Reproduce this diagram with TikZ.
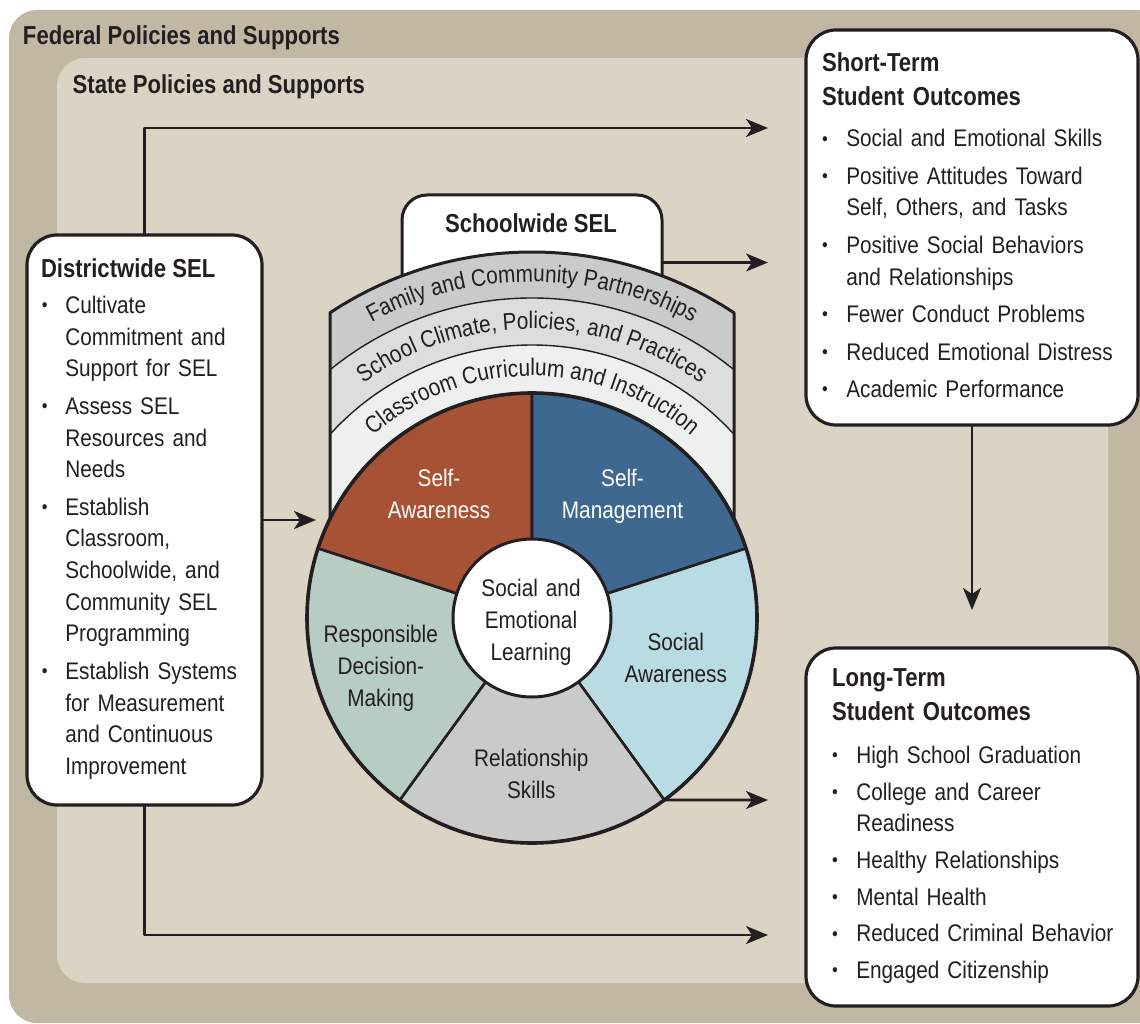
\documentclass[tikz,border=0pt]{standalone}
\usepackage{fontspec}
\setmainfont{Liberation Sans}[FakeStretch=0.865]
\newfontfamily\headf{Liberation Sans}[FakeStretch=0.85]
\usetikzlibrary{arrows.meta,decorations.text}
\definecolor{fed}{RGB}{194,183,162}
\definecolor{stategr}{RGB}{219,211,196}
\definecolor{ink}{RGB}{35,31,32}
\definecolor{rust}{RGB}{168,82,53}
\definecolor{slblue}{RGB}{62,104,144}
\definecolor{ltblue}{RGB}{185,220,228}
\definecolor{relgray}{RGB}{201,203,202}
\definecolor{sage}{RGB}{183,204,194}
\definecolor{bandA}{RGB}{201,203,202}
\definecolor{bandB}{RGB}{220,222,221}
\definecolor{bandC}{RGB}{238,240,239}
\newcommand\bodysize{\fontsize{24}{31.7}\selectfont}
\newcommand\headsize{\headf\bfseries\fontsize{26}{34}\selectfont}
\newcommand\bul[1][0pt]{\makebox[24.3pt][l]{\hspace{#1}\raisebox{1.6pt}{\fontsize{19}{19}\selectfont •}}}
\newcommand\ind{\hspace*{24.3pt}}
\begin{document}
\begin{tikzpicture}[x=1pt,y=1pt,line join=round,
  every node/.style={inner sep=0pt,outer sep=0pt,text=ink},
  box/.style={draw=ink,fill=white,line width=3.2pt,rounded corners=30pt},
  arr/.style={draw=ink,line width=2.6pt,-{Stealth[length=22pt,width=18pt,inset=6pt]}},
  sector/.style={draw=ink,line width=2.6pt},
  listtext/.style={anchor=base west,text width=320pt,align=left,font=\bodysize},
  wlabel/.style={anchor=base,text width=200pt,align=center,font=\bodysize},
  arctext/.style={decorate,decoration={text along path,text align=center,text={|\color{ink}\bodysize|#1}}}]
\useasboundingbox (0,0) rectangle (1140,-1024);
\clip (0,0) rectangle (1140,-1024);
% backgrounds
\fill[fed,rounded corners=28pt] (9,-10) rectangle (1220,-1023);
\fill[stategr,rounded corners=28pt] (57,-58) rectangle (1108,-983);
\node[anchor=base west,font=\headsize] (fedt) at (23,-45) {Federal Policies and Supports};
\node[anchor=base west,font=\headsize] (statet) at (72.7,-93.3) {State Policies and Supports};
% schoolwide tab
\node[draw=ink,fill=white,line width=3pt,rounded corners=25pt,minimum width=260pt,minimum height=135pt,anchor=north] (tab) at (532,-195) {};
\node[anchor=base,font=\headsize] (tabt) at (531,-233) {Schoolwide SEL};
% bands
\coordinate (C) at (532,-618);
\begin{scope}
  \clip (330,0) rectangle (734,-519);
  \fill[bandA] (C) circle (366);
  \fill[bandB] (C) circle (320);
  \fill[bandC] (C) circle (273);
  \draw[ink,line width=1.4pt] (C) circle (320) (C) circle (273);
\end{scope}
\draw[ink,line width=3pt] (330,-518.9) -- (330,-312.8) arc[start angle=123.5,end angle=56.5,radius=366] -- (734,-518.9);
\path[arctext={Family and Community Partnerships}] ([shift={(160:336)}]C) arc[start angle=160,end angle=20,radius=336];
\path[arctext={School Climate, Policies, and Practices}] ([shift={(160:289)}]C) arc[start angle=160,end angle=20,radius=289];
\path[arctext={Classroom Curriculum and Instruction}] ([shift={(160:242)}]C) arc[start angle=160,end angle=20,radius=242];
% wheel
\filldraw[sector,fill=rust] (C) -- ++(90:225) arc[start angle=90,end angle=162,radius=225] -- cycle;
\filldraw[sector,fill=slblue] (C) -- ++(18:225) arc[start angle=18,end angle=90,radius=225] -- cycle;
\filldraw[sector,fill=ltblue] (C) -- ++(-54:225) arc[start angle=-54,end angle=18,radius=225] -- cycle;
\filldraw[sector,fill=relgray] (C) -- ++(-126:225) arc[start angle=-126,end angle=-54,radius=225] -- cycle;
\filldraw[sector,fill=sage] (C) -- ++(162:225) arc[start angle=162,end angle=234,radius=225] -- cycle;
\draw[ink,line width=3.6pt] (C) circle (225);
\node[circle,draw=ink,fill=white,line width=3pt,minimum size=158pt] (selc) at (C) {};
\node[wlabel] (lsel) at (531,-596.7) {Social and\\Emotional\\Learning};
\node[wlabel,text=white] (lsa) at (439,-486.7) {Self-\\Awareness};
\node[wlabel,text=white] (lsm) at (622.5,-486.7) {Self-\\Management};
\node[wlabel] (lsoc) at (675.8,-650.7) {Social\\Awareness};
\node[wlabel] (lrel) at (531.3,-766.7) {Relationship\\Skills};
\node[wlabel] (lrdm) at (380.8,-642.7) {Responsible\\Decision-\\Making};
% boxes
\node[box,anchor=north west,minimum width=235pt,minimum height=570pt] (dist) at (27,-235) {};
\node[box,anchor=north west,minimum width=332pt,minimum height=395pt] (st) at (806,-30) {};
\node[box,anchor=north west,minimum width=332pt,minimum height=358pt] (lt) at (806,-648) {};
\node[anchor=base west,font=\headsize] (dhead) at (41,-278) {Districtwide SEL};
\node[listtext] (dlist) at (41,-313.5) {%
\bul[0.8pt]Cultivate\\
\ind Commitment and\\
\ind Support for SEL\\[5.7pt]
\bul[0.8pt]Assess SEL\\
\ind Resources and\\
\ind Needs\\[5.7pt]
\bul[0.8pt]Establish\\
\ind Classroom,\\
\ind Schoolwide, and\\
\ind Community SEL\\
\ind Programming\\[5.7pt]
\bul[0.8pt]Establish Systems\\
\ind for Measurement\\
\ind and Continuous\\
\ind Improvement};
\node[anchor=base west,text width=320pt,align=left,font=\headsize] (sthead) at (822,-71.7) {Short-Term\\Student Outcomes};
\node[listtext] (stlist) at (822,-146.7) {%
\bul Social and Emotional Skills\\[5.8pt]
\bul Positive Attitudes Toward\\
\ind Self, Others, and Tasks\\[5.8pt]
\bul Positive Social Behaviors\\
\ind and Relationships\\[5.8pt]
\bul Fewer Conduct Problems\\[5.8pt]
\bul Reduced Emotional Distress\\[5.8pt]
\bul Academic Performance};
\node[anchor=base west,text width=320pt,align=left,font=\headsize] (lthead) at (832,-686.7) {Long-Term\\Student Outcomes};
\node[listtext] (ltlist) at (832,-763.3) {%
\bul High School Graduation\\[5pt]
\bul College and Career\\
\ind Readiness\\[5pt]
\bul Healthy Relationships\\[5pt]
\bul Mental Health\\[5pt]
\bul Reduced Criminal Behavior\\[5pt]
\bul Engaged Citizenship};
% connectors
\coordinate (a1) at (768,-128);
\coordinate (a2) at (768,-262.5);
\coordinate (a3) at (316,-520);
\coordinate (w54) at ([shift={(-54:225)}]C);
\coordinate (a4) at (768,-800);
\coordinate (a5) at (768,-935);
\coordinate (a6) at (972,-610);
\draw[arr] (dist.north) |- (a1);
\draw[arr] (tab.east) -- (a2);
\draw[arr] (dist.east) -- (a3);
\draw[arr] (w54) -- (a4);
\draw[arr] (dist.south) |- (a5);
\draw[arr] (st.south) -- (a6);
\end{tikzpicture}
\end{document}
